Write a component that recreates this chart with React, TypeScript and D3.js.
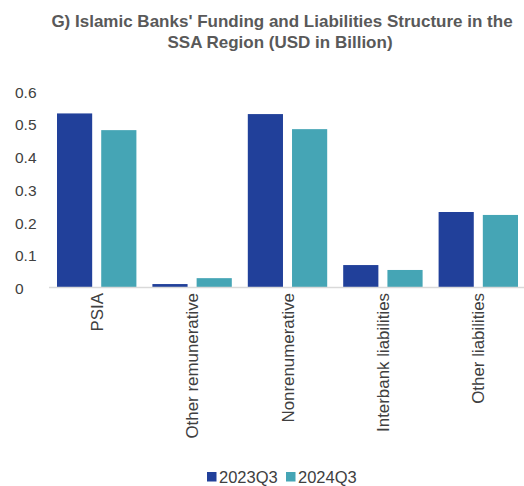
import React from "react";
import * as d3 from "d3";

const categories = ["PSIA", "Other remunerative", "Nonrenumerative", "Interbank liabilities", "Other liabilities"];
const seriesNames = ["2023Q3", "2024Q3"];
const values2023 = [0.530, 0.009, 0.528, 0.067, 0.229];
const values2024 = [0.479, 0.027, 0.482, 0.052, 0.220];
const yTicks = [0, 0.1, 0.2, 0.3, 0.4, 0.5, 0.6];
const colors = ["#21409A", "#45A5B5"];

const W = 524, H = 486;
const FONT = "'Liberation Sans', Arial, sans-serif";

export default function App() {
  const series = [values2023, values2024];
  const x = d3.scaleBand<string>().domain(categories).range([49, 526]).padding(0);
  const step = x.bandwidth();
  const inner = d3.scaleBand<string>().domain(seriesNames).range([8, step - 8]).paddingInner(0.2045).paddingOuter(0);
  const y = d3.scaleLinear().domain([0, 0.6]).range([287, 90.5]);

  return (
    <svg width={W} height={H} style={{ position: "absolute", left: 0, top: 0, background: "#fff" }} fontFamily={FONT}>
      <text x={282} y={27} textAnchor="middle" fontSize={17} fontWeight="bold" fill="#595959">G) Islamic Banks' Funding and Liabilities Structure in the</text>
      <text x={280} y={48} textAnchor="middle" fontSize={17} fontWeight="bold" fill="#595959">SSA Region (USD in Billion)</text>
      {yTicks.map((t) => (
        <text key={t} x={15} y={y(t)} dy={7} fontSize={15.5} fill="#404040">{d3.format("")(t)}</text>
      ))}
      {categories.map((c, i) => (
        <g key={c}>
          {seriesNames.map((s, j) => (
            <rect key={s} x={(x(c) as number) + (inner(s) as number)} y={y(series[j][i])} width={inner.bandwidth()} height={y(0) - y(series[j][i])} fill={colors[j]} />
          ))}
        </g>
      ))}
      <line x1={49} x2={524} y1={287.5} y2={287.5} stroke="#d9d9d9" strokeWidth={1.5} />
      {categories.map((c) => {
        const cx = (x(c) as number) + step / 2;
        return (
          <text key={c} transform={`translate(${cx + 6},${293}) rotate(-90)`} textAnchor="end" fontSize={16.9} fill="#404040">{c}</text>
        );
      })}
      {seriesNames.map((s, j) => {
        const lx = j === 0 ? 207 : 286;
        return (
          <g key={s}>
            <rect x={lx} y={472} width={9.5} height={9.5} fill={colors[j]} />
            <text x={lx + 12} y={483} fontSize={16.5} fill="#404040">{s}</text>
          </g>
        );
      })}
    </svg>
  );
}
